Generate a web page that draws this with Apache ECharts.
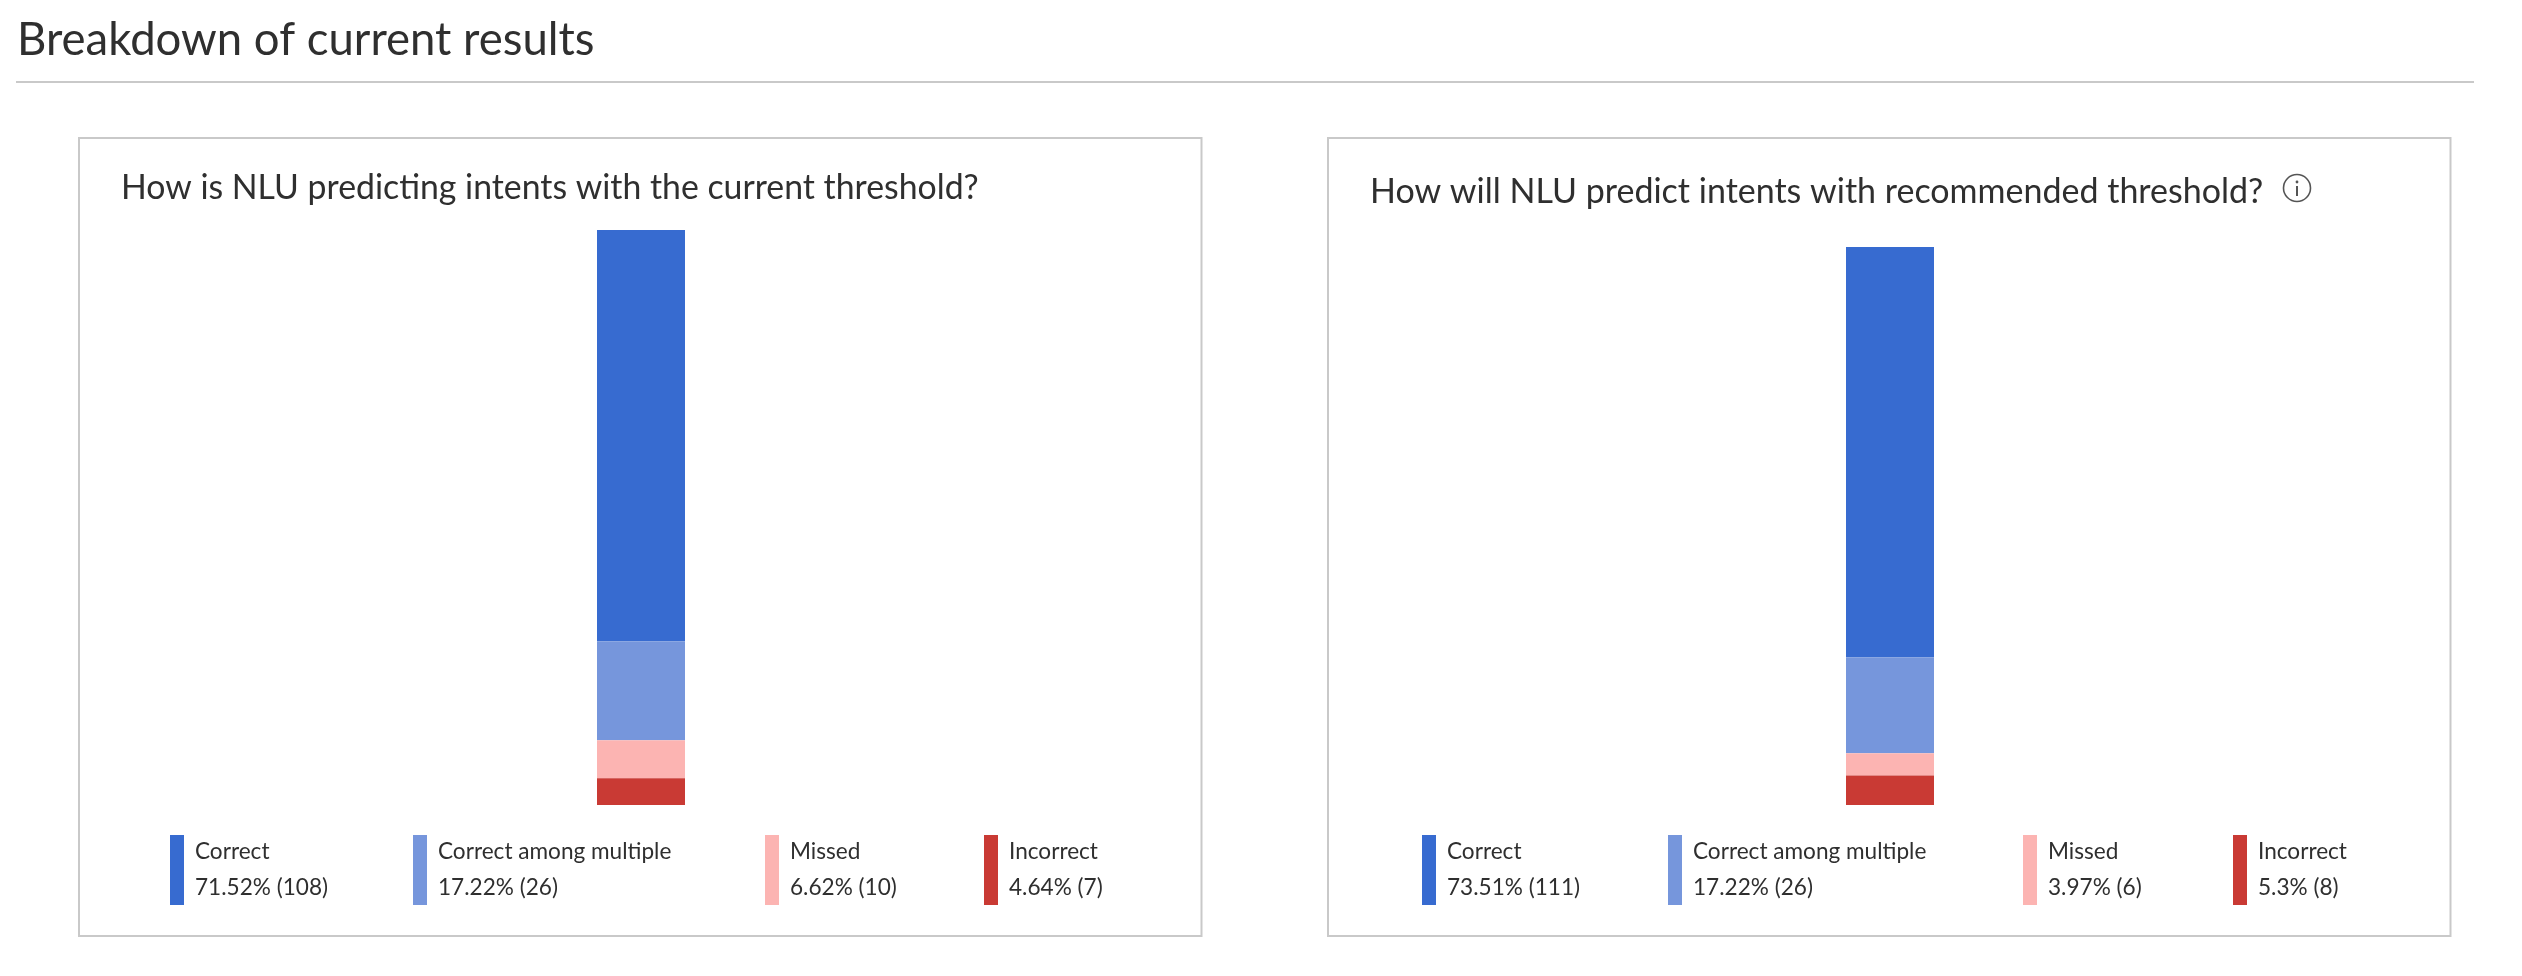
<!DOCTYPE html>
<html><head><meta charset="utf-8">
<style>html,body{margin:0;padding:0;background:#fff}#c{width:2522px;height:976px}</style>
<script src="https://cdn.jsdelivr.net/npm/echarts@6/dist/echarts.min.js"></script>
</head><body><div id="c"></div>
<script>
const categories = ['Correct','Correct among multiple','Missed','Incorrect'];
const currentCounts = [108,26,10,7];
const recommendedCounts = [111,26,6,8];
const currentShares = ['71.52% (108)','17.22% (26)','6.62% (10)','4.64% (7)'];
const recommendedShares = ['73.51% (111)','17.22% (26)','3.97% (6)','5.3% (8)'];
const colors = ['#376bd0','#7696dc','#fcb4b2','#c93a34'];
const pageTitle = 'Breakdown of current results';
const currentTitle = 'How is NLU predicting intents with the current threshold?';
const recommendedTitle = 'How will NLU predict intents with recommended threshold?';
const FONT = 'Lato';
const INK = '#2f2f2f';
const BORDER = '#c9c9c9';
const currentLegendLefts = [170,413,765,984];
const recommendedLegendLefts = [1422,1668,2023,2233];

const labelMap = {};
categories.forEach((c,i)=>{
  labelMap[c+' / current'] = c+'\n'+currentShares[i];
  labelMap[c+' / recommended'] = c+'\n'+recommendedShares[i];
});
function seriesFor(suffix, counts, gridIndex){
  return categories.map((c,i)=>({
    name:c+' / '+suffix, type:'bar', stack:suffix, xAxisIndex:gridIndex, yAxisIndex:gridIndex,
    barWidth:88, data:[counts[i]], itemStyle:{color:colors[i]}, silent:true
  }));
}
function legendsFor(suffix,lefts){
  return categories.map((c,i)=>({
    left:lefts[i], top:833, padding:0, icon:'rect', itemWidth:14, itemHeight:70,
    selectedMode:false, data:[c+' / '+suffix],
    formatter:n=>labelMap[n],
    textStyle:{fontFamily:FONT,fontSize:22.6,lineHeight:36,color:INK,padding:[0,0,2,6]}
  }));
}
function panel(x,w){
  return {type:'rect',z:-1,shape:{x,y:138,width:w,height:798},style:{fill:'#fff',stroke:BORDER,lineWidth:2}};
}
const chart = echarts.init(document.getElementById('c'),null,{renderer:'canvas'});
chart.setOption({
  animation:false,
  backgroundColor:'#fff',
  title:[
    {text:pageTitle,left:12,top:12,textStyle:{fontFamily:FONT,fontWeight:'normal',fontSize:45.5,color:INK}},
    {text:currentTitle,left:116,top:166,textStyle:{fontFamily:FONT,fontWeight:'normal',fontSize:33.8,color:INK}},
    {text:recommendedTitle,left:1365,top:170,textStyle:{fontFamily:FONT,fontWeight:'normal',fontSize:34,color:INK}}
  ],
  grid:[
    {left:80,width:1122,top:230,height:575},
    {left:1329,width:1122,top:247,height:558}
  ],
  xAxis:[0,1].map(g=>({gridIndex:g,type:'category',data:['all'],show:false})),
  yAxis:[0,1].map(g=>({gridIndex:g,type:'value',min:0,max:151,inverse:true,show:false})),
  legend:[...legendsFor('current',currentLegendLefts),...legendsFor('recommended',recommendedLegendLefts)],
  series:[...seriesFor('current',currentCounts,0),...seriesFor('recommended',recommendedCounts,1)],
  graphic:[
    {type:'line',shape:{x1:16,y1:82,x2:2474,y2:82},style:{stroke:BORDER,lineWidth:2}},
    panel(79,1122.5),panel(1328,1122.5),
    {type:'circle',shape:{cx:2297,cy:188,r:13.5},style:{fill:'none',stroke:'#555',lineWidth:1.6}},
    {type:'rect',shape:{x:2296,y:186,width:2,height:10},style:{fill:'#555'}},
    {type:'circle',shape:{cx:2297,cy:182,r:1.4},style:{fill:'#555'}}
  ]
});
</script></body></html>
